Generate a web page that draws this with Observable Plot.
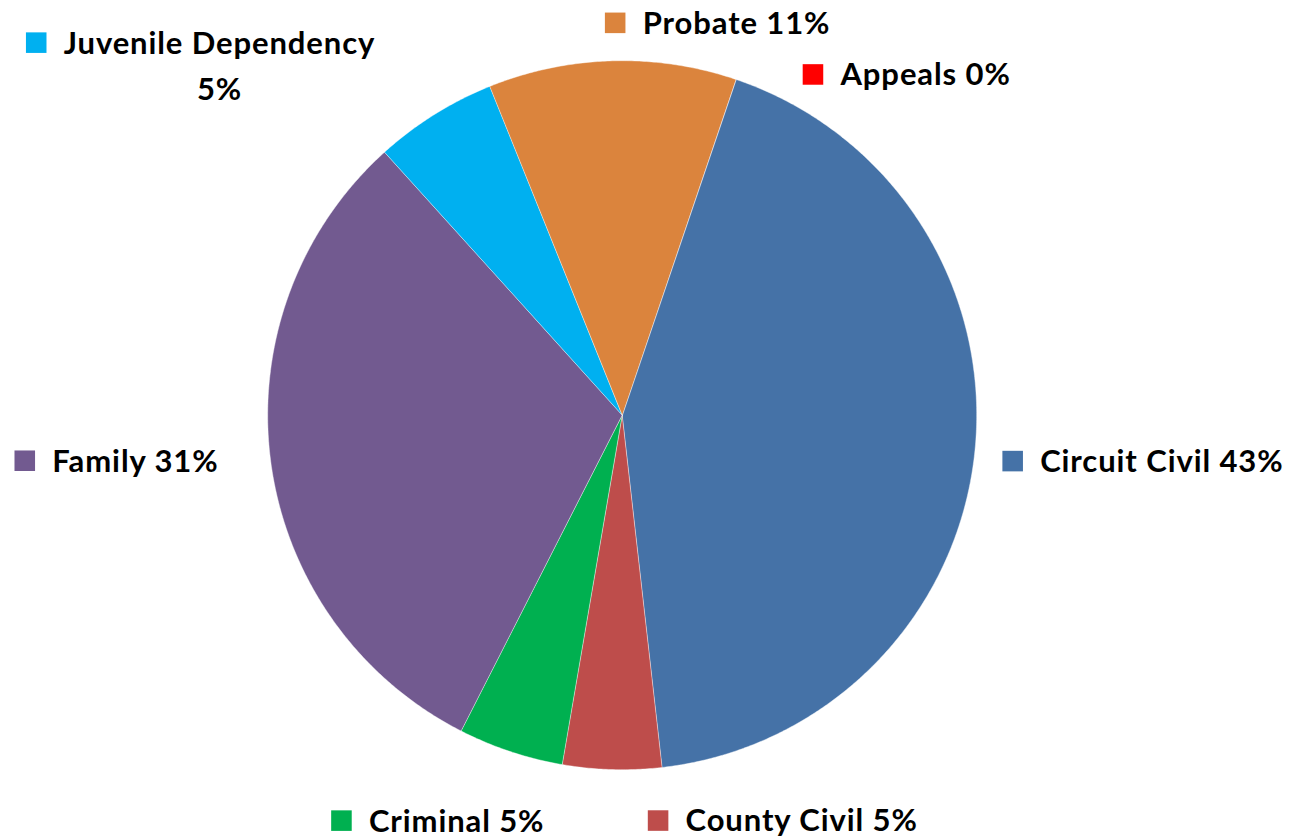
<!DOCTYPE html>
<html><head><meta charset="utf-8">
<script src="https://cdn.jsdelivr.net/npm/d3@7"></script>
<script src="https://cdn.jsdelivr.net/npm/@observablehq/plot@0.6"></script>
<style>body{margin:0;background:#fff}</style>
</head><body><div id="chart"></div>
<script>
// ---- data ----
const categories = ["Appeals", "Circuit Civil", "County Civil", "Criminal", "Family", "Juvenile Dependency", "Probate"];
const shares = [0.01, 43.0, 4.5, 4.8, 30.8, 5.6, 11.29];
const percentLabels = ["0%", "43%", "5%", "5%", "31%", "5%", "11%"];
const colors = ["#FF0000", "#4572A7", "#BE4D4B", "#00B050", "#725A90", "#00B0F0", "#DB843D"];

// ---- layout ----
const W = 1290, H = 839, CX = 621.7, CY = 414.7, R = 354.5, START = 18.7;
const FONT = "Lato", FS = 31, LS = 0.9;
// label offsets (px) from slice mid-angle point on the rim to the legend-key centre
const labelNudge = {
  "Appeals": [77, -5], "Circuit Civil": [38, 8], "County Civil": [46, 51],
  "Criminal": [-169, 69], "Family": [-246, -1], "Juvenile Dependency": [-398, -72], "Probate": [3, -38]
};
const twoLine = new Set(["Juvenile Dependency"]);

const total = d3.sum(shares);
let acc = START;
const slices = categories.map((c, i) => {
  const a0 = acc, a1 = acc + shares[i] / total * 360; acc = a1;
  return {name: c, a0, a1, mid: (a0 + a1) / 2, i};
});
const rad = d => d * Math.PI / 180;
const poly = [];
for (const s of slices) {
  poly.push({name: s.name, x: 0, y: 0});
  const n = Math.max(2, Math.ceil((s.a1 - s.a0) / 0.4));
  for (let k = 0; k <= n; k++) {
    const a = rad(s.a0 + (s.a1 - s.a0) * k / n);
    poly.push({name: s.name, x: Math.sin(a), y: Math.cos(a)});
  }
}

const ctx = document.createElement("canvas").getContext("2d");
ctx.font = `bold ${FS}px ${FONT}`;
const textWidth = t => ctx.measureText(t).width + LS * t.length;

const labels = slices.map(s => {
  const [nx, ny] = labelNudge[s.name];
  const x = Math.sin(rad(s.mid)) + nx / R;
  const y = Math.cos(rad(s.mid)) - ny / R;
  const line1 = twoLine.has(s.name) ? s.name : `${s.name} ${percentLabels[s.i]}`;
  return {name: s.name, x, y, line1, line2: twoLine.has(s.name) ? percentLabels[s.i] : null,
          w: textWidth(line1)};
});
const second = labels.filter(d => d.line2);

const color = {domain: categories, range: colors};
const chart = Plot.plot({
  width: W, height: H, margin: 0,
  x: {domain: [-1, 1], range: [CX - R, CX + R], axis: null},
  y: {domain: [-1, 1], range: [CY + R, CY - R], axis: null},
  color,
  style: {background: "white"},
  marks: [
    Plot.line(poly, {x: "x", y: "y", z: "name", fill: "name", stroke: "white", strokeWidth: 0.6, strokeOpacity: 0.7, curve: "linear-closed"}),
    Plot.dot(labels, {x: "x", y: "y", fill: "name", symbol: "square", r: 11.6, strokeWidth: 0}),
    Plot.text(labels, {x: "x", y: "y", text: "line1", textAnchor: "start", lineAnchor: "middle", dx: 27.5, dy: 1,
      fontSize: FS, fontFamily: FONT, fontWeight: "bold", fill: "black"}),
    ...second.map(d => Plot.text([d], {x: "x", y: "y", text: "line2", textAnchor: "middle", lineAnchor: "middle",
      dx: 27.5 + d.w / 2, dy: 47, fontSize: FS, fontFamily: FONT, fontWeight: "bold", fill: "black"}))
  ]
});
chart.querySelectorAll("text").forEach(t => t.style.letterSpacing = LS + "px");
document.getElementById("chart").append(chart);
</script>
</body></html>
